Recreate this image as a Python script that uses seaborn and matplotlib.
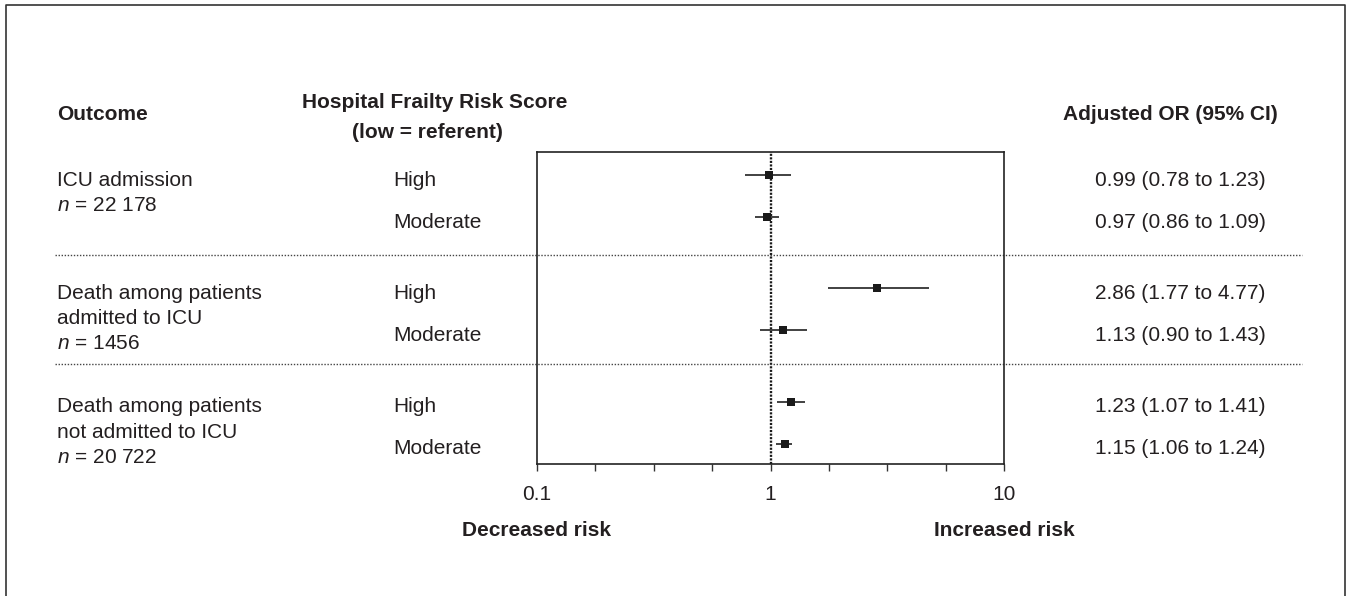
import matplotlib
matplotlib.use("Agg")
import matplotlib.pyplot as plt
import matplotlib.transforms as mtransforms
from matplotlib.lines import Line2D
from matplotlib.ticker import NullFormatter
import pandas as pd
import seaborn as sns

# Data
outcomes = [
    ["ICU admission"],
    ["Death among patients", "admitted to ICU"],
    ["Death among patients", "not admitted to ICU"],
]
sample_sizes = ["22 178", "1456", "20 722"]
levels = ["High", "Moderate"]
or_est = [0.99, 0.97, 2.86, 1.13, 1.23, 1.15]
ci_low = [0.78, 0.86, 1.77, 0.90, 1.07, 1.06]
ci_high = [1.23, 1.09, 4.77, 1.43, 1.41, 1.24]

# Layout
GROUP_GAP = 2.7
rows = []
for g in range(len(outcomes)):
    for k, lev in enumerate(levels):
        i = g * len(levels) + k
        rows.append({"group": g, "level": lev, "ypos": g * GROUP_GAP + k,
                     "OR": or_est[i], "lo": ci_low[i], "hi": ci_high[i]})
df = pd.DataFrame(rows)
df["label"] = df.apply(lambda r: f"{r.OR:.2f} ({r.lo:.2f} to {r.hi:.2f})", axis=1)

sns.set_style("ticks")
plt.rcParams["font.family"] = ["Liberation Sans", "DejaVu Sans"]
plt.rcParams["mathtext.fontset"] = "custom"
plt.rcParams["mathtext.it"] = "Liberation Sans:italic"
plt.rcParams["mathtext.rm"] = "Liberation Sans"

W, H = 1353, 596
fig = plt.figure(figsize=(W / 100, H / 100), dpi=100)
ax = fig.add_axes([537 / W, 1 - 464 / H, (1004 - 537) / W, (464 - 152) / H])

TXT = "#231f20"
FS = 15

# Forest plot marks
ax.hlines(df["ypos"], df["lo"], df["hi"], color="#333333", lw=1.3, zorder=2)
sns.scatterplot(data=df, x="OR", y="ypos", marker="s", s=34, color="#1a1a1a",
                linewidth=0, ax=ax, zorder=3)
ax.axvline(1, color="#1a1a1a", lw=1.7, ls=(0, (0.9, 0.6)), zorder=1)

ax.set_xscale("log")
ax.set_xlim(0.1, 10)
ax.set_ylim(6.88, -0.55)
ax.set_yticks([])
ax.set_xlabel("")
ax.set_ylabel("")
ax.set_xticks([0.1, 1, 10], labels=["0.1", "1", "10"])
ax.set_xticks([10 ** (-1 + k / 4) for k in range(1, 8) if k != 4], minor=True)
ax.xaxis.set_minor_formatter(NullFormatter())
ax.tick_params(axis="x", which="both", length=5, width=1, color="#333333",
               labelsize=FS, labelcolor=TXT, pad=10)
for sp in ax.spines.values():
    sp.set_visible(True)
    sp.set_linewidth(1.2)
    sp.set_color("#222222")

# Row text (figure x, data y)
blend = mtransforms.blended_transform_factory(fig.transFigure, ax.transData)
TOFF = 0.12
LINE = 0.6
for _, r in df.iterrows():
    ax.text(393 / W, r.ypos + TOFF, r.level, transform=blend, ha="left",
            va="center", fontsize=FS, color=TXT)
    ax.text(1180 / W, r.ypos + TOFF, r.label, transform=blend, ha="center",
            va="center", fontsize=FS, color=TXT)

for g, lines in enumerate(outcomes):
    y0 = g * GROUP_GAP + TOFF
    for j, line in enumerate(lines + [f"$n$ = {sample_sizes[g]}"]):
        ax.text(57 / W, y0 + j * LINE, line, transform=blend, ha="left",
                va="center", fontsize=FS, color=TXT)

# Dotted separators between outcome groups
for g in range(1, len(outcomes)):
    ysep = (g - 1) * GROUP_GAP + (1 + GROUP_GAP) / 2 + (0.06 if g == 1 else -0.06)
    ax.plot([55 / W, 1302 / W], [ysep, ysep], transform=blend, clip_on=False,
            color="#444444", lw=1.0, ls=(0, (1, 1.2)), zorder=1)

# Column headers
fig.text(57 / W, 1 - 115 / H, "Outcome", ha="left", va="center",
         fontsize=FS, fontweight="bold", color=TXT)
fig.text(302 / W, 1 - 102 / H, "Hospital Frailty Risk Score", ha="left",
         va="center", fontsize=FS, fontweight="bold", color=TXT)
fig.text(352 / W, 1 - 133 / H, "(low = referent)", ha="left", va="center",
         fontsize=FS, fontweight="bold", color=TXT)
fig.text(1170 / W, 1 - 115 / H, "Adjusted OR (95% CI)", ha="center",
         va="center", fontsize=FS, fontweight="bold", color=TXT)

# Direction labels under the axis
xblend = mtransforms.blended_transform_factory(ax.transData, fig.transFigure)
ax.text(0.1, 1 - 530 / H, "Decreased risk", transform=xblend, ha="center",
        va="center", fontsize=FS, fontweight="bold", color=TXT)
ax.text(10, 1 - 530 / H, "Increased risk", transform=xblend, ha="center",
        va="center", fontsize=FS, fontweight="bold", color=TXT)

# Outer frame (open at the bottom)
fig.add_artist(Line2D([6 / W, 6 / W, 1345 / W, 1345 / W],
                      [0, 1 - 5 / H, 1 - 5 / H, 0],
                      transform=fig.transFigure, color="#333333", lw=1.2))

fig.savefig("out.png", dpi=100)
